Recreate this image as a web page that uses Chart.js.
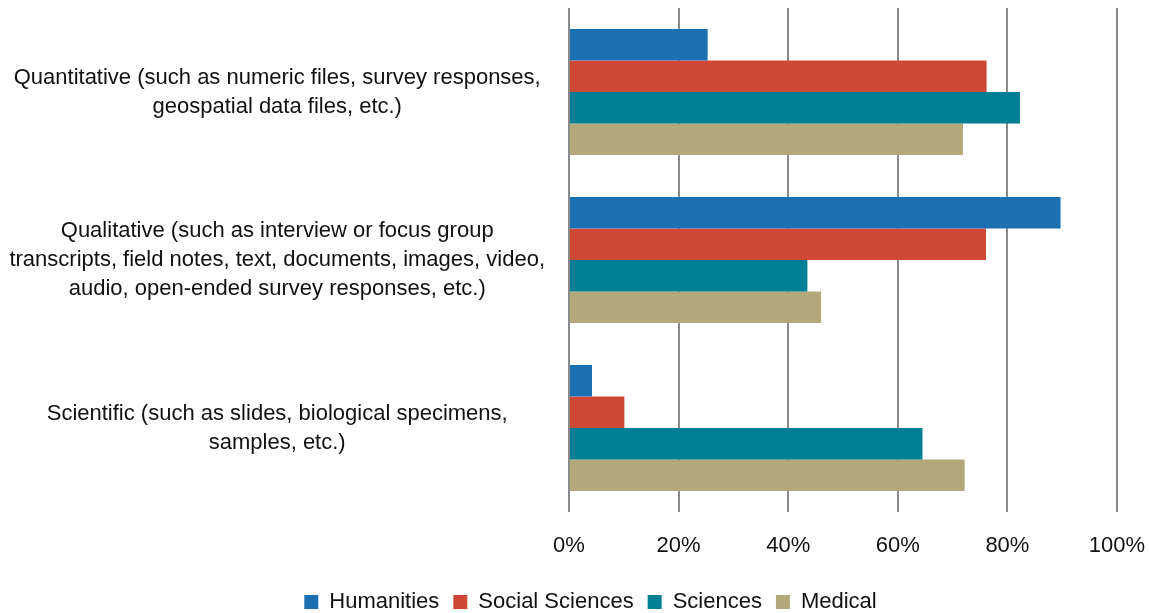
<!DOCTYPE html>
<html>
<head>
<meta charset="utf-8">
<script src="https://cdn.jsdelivr.net/npm/chart.js@4"></script>
<style>
  html, body { margin: 0; padding: 0; background: #fff; }
  #wrap { width: 1149px; height: 613px; }
</style>
</head>
<body>
<div id="wrap"><canvas id="chart"></canvas></div>
<script>
var categories = [
    ["Quantitative (such as numeric files, survey responses,", "geospatial data files, etc.)"],
    ["Qualitative (such as interview or focus group", "transcripts, field notes, text, documents, images, video,", "audio, open-ended survey responses, etc.)"],
    ["Scientific (such as slides, biological specimens,", "samples, etc.)"]
];
var humanities = [25.3, 89.7, 4.2];
var socialSciences = [76.2, 76.1, 10.1];
var sciences = [82.3, 43.5, 64.5];
var medical = [71.9, 46.0, 72.2];
var xTicks = [0, 20, 40, 60, 80, 100];

var font = "'Liberation Sans', Arial, sans-serif";

var ctx = document.getElementById("chart").getContext("2d");

var data = {
    labels: categories,
    datasets: [
        { label: "Humanities", data: humanities, backgroundColor: "#1a70b2" },
        { label: "Social Sciences", data: socialSciences, backgroundColor: "#cf4836" },
        { label: "Sciences", data: sciences, backgroundColor: "#037f96" },
        { label: "Medical", data: medical, backgroundColor: "#b3a87a" }
    ]
};

// nudge the legend a bit right, like the original
var legendShift = {
    id: "legendShift",
    afterLayout: function(chart) {
        chart.legend.left += 32;
        chart.legend.right += 32;
    }
};

var chart = new Chart(ctx, {
    type: "bar",
    data: data,
    plugins: [legendShift],
    options: {
        indexAxis: "y",
        responsive: true,
        maintainAspectRatio: false,
        animation: false,
        barPercentage: 1,
        categoryPercentage: 0.75,
        layout: { padding: { left: 0, right: 32, top: 8, bottom: -10 } },
        scales: {
            x: {
                min: 0,
                max: 100,
                afterBuildTicks: function(axis) {
                    axis.ticks = xTicks.map(function(v) { return { value: v }; });
                },
                afterFit: function(axis) {
                    axis.height = 65;
                    axis.paddingLeft = 0;
                    axis.paddingRight = 0;
                },
                grid: { color: "#8a8a8a", lineWidth: 2, drawTicks: false },
                border: { display: false },
                ticks: {
                    padding: 21,
                    color: "#111",
                    font: { family: font, size: 22 },
                    callback: function(v) { return v + "%"; }
                }
            },
            y: {
                afterFit: function(axis) {
                    axis.width = 569;
                    axis.paddingTop = 0;
                    axis.paddingBottom = 0;
                },
                grid: { display: false, drawTicks: false },
                border: { display: false },
                ticks: {
                    crossAlign: "center",
                    padding: 24,
                    color: "#111",
                    font: { family: font, size: 22, lineHeight: 1.32 }
                }
            }
        },
        plugins: {
            legend: {
                position: "bottom",
                labels: {
                    boxWidth: 14,
                    boxHeight: 14,
                    padding: 14,
                    color: "#111",
                    font: { family: font, size: 22 }
                }
            },
            tooltip: { enabled: false }
        }
    }
});
</script>
</body>
</html>
